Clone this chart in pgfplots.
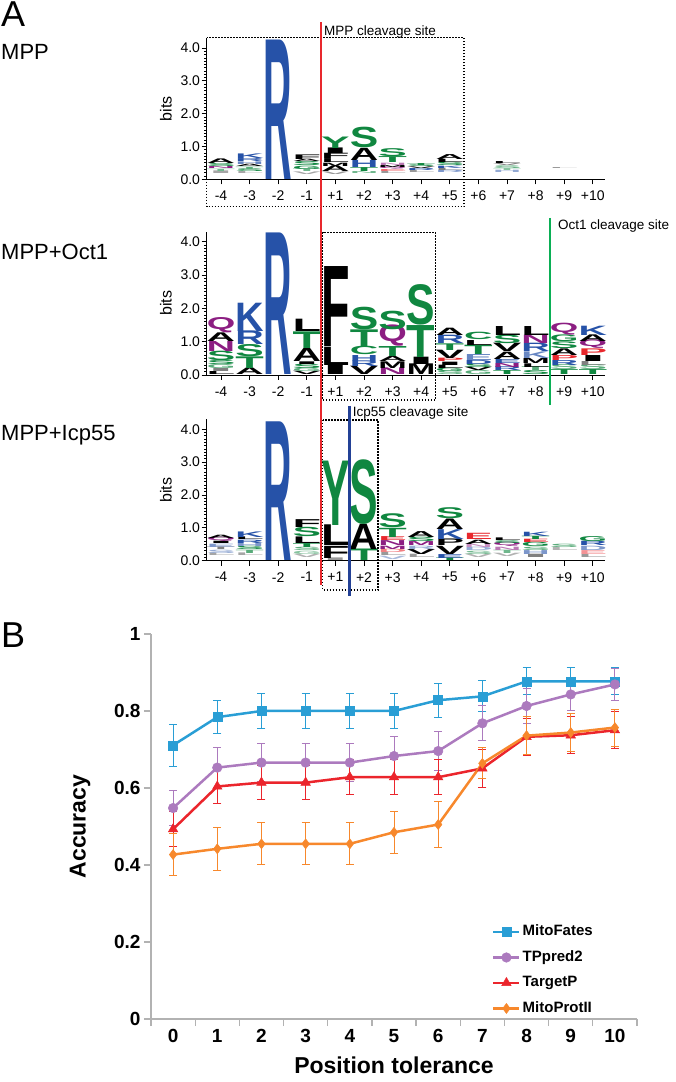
\documentclass[border=0pt]{standalone}
\usepackage{pgfplots}
\pgfplotsset{compat=1.18}
\usepackage{pgfplotstable}
\usepackage{graphicx}
\usepackage{fontspec}
\setmainfont{Liberation Sans}
\newfontfamily\logofont{Liberation Sans}
\definecolor{lb}{RGB}{38,82,168}
\definecolor{lg}{RGB}{16,135,64}
\definecolor{lp}{RGB}{140,30,130}
\definecolor{lr}{RGB}{232,40,45}
\definecolor{lk}{RGB}{0,0,0}
\definecolor{cblue}{RGB}{41,158,213}
\definecolor{cpurp}{RGB}{172,122,190}
\definecolor{cred}{RGB}{235,37,44}
\definecolor{corange}{RGB}{247,136,44}
\definecolor{lineg}{RGB}{10,175,85}
\definecolor{lineb}{RGB}{35,65,150}
\newlength\bu
\def\logoletter#1:#2:#3\relax{\textcolor{#1}{\resizebox{28.5pt}{#2\bu}{\logofont\bfseries #3}}}

% columns: x = position index, y = bottom of letter (bits), m = colour:height:letter
\pgfplotstableread{
x y m
1 0.17 lk!35:0.08:I
1 0.25 lg!60:0.07:T
1 0.32 lp:0.06:N
1 0.38 lg:0.09:S
1 0.47 lk:0.14:A
2 0.17 lk!35:0.06:L
2 0.23 lg:0.08:S
2 0.31 lg!70:0.07:T
2 0.38 lk:0.07:A
2 0.45 lb!70:0.08:H
2 0.53 lb:0.09:R
2 0.62 lb:0.14:K
3 0 lb:4.25:R
4 0.15 lk!35:0.08:V
4 0.23 lg!60:0.08:T
4 0.31 lg:0.10:G
4 0.41 lg:0.12:S
4 0.53 lk:0.07:A
4 0.60 lk:0.14:F
5 0.15 lk!40:0.08:V
5 0.23 lk:0.17:A
5 0.40 lk:0.10:M
5 0.50 lk:0.12:L
5 0.62 lk:0.16:F
5 0.78 lk:0.17:I
5 0.95 lg:0.35:Y
6 0.18 lg!60:0.06:N
6 0.24 lg:0.12:T
6 0.36 lb:0.22:H
6 0.58 lk:0.37:A
6 0.95 lg:0.62:S
7 0.18 lk!40:0.07:L
7 0.25 lr!70:0.06:E
7 0.31 lp:0.06:Q
7 0.37 lk:0.06:M
7 0.43 lp!60:0.07:N
7 0.50 lg:0.18:T
7 0.68 lg:0.24:S
8 0.20 lk!40:0.07:L
8 0.27 lb:0.06:R
8 0.33 lk:0.05:V
8 0.38 lg:0.05:S
8 0.43 lg:0.06:T
9 0.20 lb!60:0.07:R
9 0.27 lk!50:0.07:L
9 0.34 lb:0.07:K
9 0.41 lg:0.10:S
9 0.51 lk:0.10:L
9 0.61 lk:0.15:A
11 0.20 lb!50:0.07:H
11 0.27 lg!50:0.06:T
11 0.33 lg!70:0.08:S
11 0.41 lk!50:0.06:V
11 0.47 lk:0.06:L
13 0.32 lk!40:0.03:L
}\logoA

\pgfplotstableread{
x y m
1 0 lk:0.09:L
1 0.09 lk!50:0.09:I
1 0.18 lg!70:0.12:G
1 0.30 lg:0.12:S
1 0.42 lg:0.28:S
1 0.70 lp:0.30:N
1 1.00 lk:0.26:A
1 1.26 lp:0.36:Q
2 0 lk:0.20:A
2 0.20 lg:0.35:T
2 0.55 lg:0.36:S
2 0.91 lb:0.41:R
2 1.32 lb:0.85:K
3 0 lb:4.25:R
4 0 lk:0.10:V
4 0.10 lg!70:0.10:G
4 0.20 lg:0.13:S
4 0.33 lk:0.08:I
4 0.41 lk:0.39:A
4 0.80 lg:0.50:T
4 1.30 lk:0.37:L
5 0 lk:0.30:I
5 0.30 lk:0.55:L
5 0.85 lk:2.40:F
6 0 lk:0.25:V
6 0.25 lb:0.17:R
6 0.42 lb:0.18:H
6 0.60 lg:0.25:C
6 0.85 lg:0.50:T
6 1.35 lg:0.67:S
7 0 lp:0.20:N
7 0.20 lk:0.20:M
7 0.40 lk:0.15:A
7 0.55 lg:0.30:T
7 0.85 lp:0.50:Q
7 1.35 lg:0.55:S
8 0 lk:0.32:M
8 0.32 lk:0.22:I
8 0.54 lg:0.96:T
8 1.50 lg:1.20:S
9 0 lg!70:0.10:S
9 0.10 lg:0.10:G
9 0.20 lk:0.10:L
9 0.30 lk:0.10:I
9 0.40 lr:0.10:P
9 0.50 lk:0.25:V
9 0.75 lg:0.20:T
9 0.95 lb:0.25:R
9 1.20 lk:0.22:A
10 0 lg!70:0.12:G
10 0.12 lk:0.10:V
10 0.22 lg:0.10:S
10 0.32 lb:0.12:D
10 0.44 lb!70:0.18:E
10 0.62 lg:0.28:T
10 0.90 lk:0.15:L
10 1.05 lg:0.22:C
11 0 lg:0.12:T
11 0.12 lb:0.12:R
11 0.24 lp:0.12:N
11 0.36 lb:0.12:E
11 0.48 lk:0.22:A
11 0.70 lk:0.25:V
11 0.95 lg:0.25:S
11 1.20 lk:0.27:L
12 0 lg:0.12:S
12 0.12 lg!70:0.12:T
12 0.24 lk:0.11:L
12 0.35 lk:0.15:M
12 0.50 lb!70:0.20:K
12 0.70 lb:0.25:R
12 0.95 lp:0.25:N
12 1.20 lk:0.27:L
13 0 lg:0.15:T
13 0.15 lg!70:0.15:S
13 0.30 lb:0.15:R
13 0.45 lr:0.15:P
13 0.60 lk:0.20:A
13 0.80 lg:0.20:S
13 1.00 lg:0.20:G
13 1.20 lp:0.28:Q
14 0 lg:0.15:T
14 0.15 lg!70:0.15:S
14 0.30 lk!50:0.12:L
14 0.42 lk:0.18:I
14 0.60 lr:0.20:P
14 0.80 lp:0.20:Q
14 1.00 lk:0.20:A
14 1.20 lb:0.28:K
}\logoB

\pgfplotstableread{
x y m
1 0.15 lk!35:0.08:L
1 0.23 lb!50:0.10:S
1 0.33 lk!50:0.08:T
1 0.41 lb!60:0.10:E
1 0.51 lk:0.07:I
1 0.58 lp:0.10:Q
1 0.68 lk:0.10:A
2 0.15 lk!35:0.08:L
2 0.23 lg!70:0.10:T
2 0.33 lg:0.10:S
2 0.43 lb!60:0.10:H
2 0.53 lb:0.10:R
2 0.63 lk:0.08:L
2 0.71 lb:0.17:K
3 0 lb:4.22:R
4 0.10 lk!30:0.10:V
4 0.20 lg!50:0.10:G
4 0.30 lg!70:0.10:S
4 0.40 lg:0.12:T
4 0.52 lk:0.20:L
4 0.72 lg:0.28:S
4 1.00 lk:0.24:F
5 0 lk!40:0.08:I
5 0.08 lk:0.37:F
5 0.45 lk:0.63:L
5 1.08 lg:1.96:Y
6 0 lg:0.35:T
6 0.35 lk:0.77:A
6 1.12 lg:1.94:S
7 0.05 lb!40:0.10:V
7 0.15 lk!40:0.10:L
7 0.25 lr!60:0.10:D
7 0.35 lp:0.10:M
7 0.45 lp:0.15:N
7 0.60 lr:0.12:E
7 0.72 lg:0.28:T
7 1.00 lg:0.42:S
8 0.10 lk!40:0.10:L
8 0.20 lk:0.15:V
8 0.35 lb!50:0.10:R
8 0.45 lp:0.12:M
8 0.57 lg:0.13:S
8 0.70 lk:0.18:A
9 0 lg:0.08:T
9 0.08 lb:0.12:E
9 0.20 lk:0.25:V
9 0.45 lk:0.20:P
9 0.65 lb:0.30:K
9 0.95 lk:0.32:A
9 1.27 lg:0.33:S
10 0.10 lk!30:0.10:V
10 0.20 lg!60:0.10:S
10 0.30 lb!50:0.10:D
10 0.40 lp!50:0.10:N
10 0.50 lk:0.13:A
10 0.63 lr:0.19:E
11 0.12 lk!30:0.10:V
11 0.22 lg!60:0.10:T
11 0.32 lp!60:0.10:N
11 0.42 lp:0.10:Q
11 0.52 lg:0.08:S
11 0.60 lk:0.08:L
12 0.10 lk!50:0.10:I
12 0.20 lb!60:0.12:H
12 0.32 lg!70:0.10:S
12 0.42 lg:0.13:G
12 0.55 lr:0.10:E
12 0.65 lg:0.10:T
12 0.75 lb:0.13:K
13 0.30 lk!30:0.10:L
13 0.40 lg!70:0.10:S
14 0.10 lk!40:0.10:L
14 0.20 lr!50:0.12:E
14 0.32 lb!60:0.13:D
14 0.45 lb:0.13:R
14 0.58 lg:0.15:G
}\logoC

\pgfplotstableread{
x y e
0 0.711 0.054
1 0.784 0.042
2 0.800 0.045
3 0.800 0.045
4 0.800 0.045
5 0.800 0.045
6 0.828 0.044
7 0.838 0.040
8 0.877 0.035
9 0.877 0.035
10 0.877 0.035
}\mitofates

\pgfplotstableread{
x y e
0 0.548 0.045
1 0.653 0.053
2 0.666 0.050
3 0.666 0.050
4 0.666 0.050
5 0.683 0.052
6 0.696 0.050
7 0.768 0.045
8 0.813 0.045
9 0.843 0.043
10 0.869 0.042
}\tppred

\pgfplotstableread{
x y e
0 0.493 0.045
1 0.604 0.044
2 0.614 0.045
3 0.614 0.045
4 0.628 0.045
5 0.628 0.045
6 0.628 0.045
7 0.651 0.050
8 0.733 0.048
9 0.737 0.048
10 0.750 0.048
}\targetp

\pgfplotstableread{
x y e
0 0.427 0.055
1 0.442 0.055
2 0.455 0.055
3 0.455 0.055
4 0.455 0.055
5 0.485 0.055
6 0.505 0.060
7 0.664 0.040
8 0.736 0.050
9 0.744 0.050
10 0.757 0.048
}\mitoprot

\pgfplotsset{
 logo/.style={
  scale only axis, width=398.6pt, xmin=0.493, xmax=14.43, ymin=0, ymax=4.3, anchor=south west,
  axis x line*=bottom, axis y line*=left,
  axis line style={black, line width=0.9pt},
  xtick={1,...,14}, xticklabels={-4,-3,-2,-1,+1,+2,+3,+4,+5,+6,+7,+8,+9,+10},
  ytick={0,1,2,3,4}, yticklabels={0.0,1.0,2.0,3.0,4.0},
  minor y tick num=9,
  tick align=outside, major tick length=5pt, minor tick length=2.5pt,
  tick style={black, line width=0.8pt},
  ticklabel style={font=\fontsize{14}{14}\selectfont},
  yticklabel style={xshift=2pt},
  xticklabel style={yshift=-3pt},
  ylabel={bits},
  ylabel style={font=\fontsize{16}{16}\selectfont, at={(axis description cs:-0.1016,0.5)}, anchor=center},
  clip=false,
 },
 letters/.style={only marks, mark=text, text mark={}, point meta=explicit symbolic,
  nodes near coords={\expandafter\logoletter\pgfplotspointmeta\relax},
  every node near coord/.append style={anchor=south, inner sep=0pt, outer sep=0pt},
 },
}

\begin{document}
\begin{tikzpicture}
\path[use as bounding box] (0pt,0pt) rectangle (676pt,1082pt);

% ---- Logo 1: MPP
\setlength\bu{32.8pt}
\begin{axis}[logo, at={(206.5pt,902.7pt)}, height=141.04pt]
\addplot[letters] table[x=x,y=y,meta=m]{\logoA};
\end{axis}

% ---- Logo 2: MPP+Oct1
\setlength\bu{33.3pt}
\begin{axis}[logo, at={(206.5pt,707pt)}, height=143.19pt]
\addplot[letters] table[x=x,y=y,meta=m]{\logoB};
\end{axis}

% ---- Logo 3: MPP+Icp55
\setlength\bu{32.85pt}
\begin{axis}[logo, at={(206.5pt,521.3pt)}, height=141.26pt]
\addplot[letters] table[x=x,y=y,meta=m]{\logoC};
\end{axis}

% ---- Panel B
\begin{axis}[at={(151pt,63pt)}, anchor=south west, scale only axis, width=486pt, height=385pt,
 xmin=-0.5, xmax=10.5, ymin=0, ymax=1,
 axis x line*=bottom, axis y line*=left,
 axis line style={draw=black!30, line width=1.2pt},
 xtick={0,...,10}, minor xtick={-0.5,0.5,...,10.5},
 ytick={0,0.2,0.4,0.6,0.8,1},
 tick align=outside, major tick length=7pt, minor tick length=7pt,
 tick style={black!30, line width=1.2pt},
 major x tick style={draw=none},
 ticklabel style={font=\bfseries\fontsize{19}{19}\selectfont},
 /pgf/number format/assume math mode=true,
 xlabel={Position tolerance}, ylabel={Accuracy},
 label style={font=\bfseries\fontsize{23}{23}\selectfont},
 xlabel style={at={(axis description cs:0.5,-0.119)}, anchor=center},
 ylabel style={at={(axis description cs:-0.146,0.5)}, anchor=center},
 legend style={at={(0.7016,0.246)}, anchor=north west, draw=none, fill=none,
   inner sep=0pt, row sep=10.5pt,
   font=\bfseries\fontsize{15}{15}\selectfont,
   nodes={inner xsep=2pt, inner ysep=0pt, text height=11.5pt, text depth=3.5pt}},
 legend cell align=left,
 legend image code/.code={\draw[mark repeat=2,mark phase=2,#1] plot coordinates {(0pt,0pt) (13pt,0pt) (26pt,0pt)};},
 clip=false,
]
\addplot[cblue, line width=2.5pt, mark=square*, mark size=4.5pt, mark options={solid, line width=0.5pt},
  error bars/.cd, y dir=both, y explicit, error bar style={line width=1pt, cblue},
  error mark options={rotate=90, mark size=4pt, line width=1pt, cblue}]
  table[x=x,y=y,y error=e]{\mitofates};
\addlegendentry{MitoFates}
\addplot[cpurp, line width=2.5pt, mark=*, mark size=4.8pt, mark options={solid, line width=0.5pt},
  error bars/.cd, y dir=both, y explicit, error bar style={line width=1pt, cpurp},
  error mark options={rotate=90, mark size=4pt, line width=1pt, cpurp}]
  table[x=x,y=y,y error=e]{\tppred};
\addlegendentry{TPpred2}
\addplot[cred, line width=2.5pt, mark=triangle*, mark size=5.5pt, mark options={solid, line width=0.5pt},
  error bars/.cd, y dir=both, y explicit, error bar style={line width=1pt, cred},
  error mark options={rotate=90, mark size=4pt, line width=1pt, cred}]
  table[x=x,y=y,y error=e]{\targetp};
\addlegendentry{TargetP}
\addplot[corange, line width=2.5pt, mark=diamond*, mark size=5pt, mark options={solid, line width=0.5pt},
  error bars/.cd, y dir=both, y explicit, error bar style={line width=1pt, corange},
  error mark options={rotate=90, mark size=4pt, line width=1pt, corange}]
  table[x=x,y=y,y error=e]{\mitoprot};
\addlegendentry{MitoProtII}
\end{axis}

% ---- annotations
\node[anchor=base west, inner sep=0pt, font=\fontsize{36}{36}\selectfont] at (1pt,1055pt) {A};
\node[anchor=base west, inner sep=0pt, font=\fontsize{22}{22}\selectfont] at (1pt,1022pt) {MPP};
\node[anchor=base west, inner sep=0pt, font=\fontsize{22}{22}\selectfont] at (1pt,822pt) {MPP+Oct1};
\node[anchor=base west, inner sep=0pt, font=\fontsize{22}{22}\selectfont] at (1pt,641pt) {MPP+Icp55};
\node[anchor=base west, inner sep=0pt, font=\fontsize{36}{36}\selectfont] at (1pt,434pt) {B};

\draw[black, line width=1.5pt, dash pattern=on 1.5pt off 1.5pt] (206.5pt,1044.3pt) rectangle (464.1pt,875.3pt);
\draw[black, line width=1.5pt, dash pattern=on 1.5pt off 1.5pt] (322.5pt,849.7pt) rectangle (435.5pt,682pt);
\draw[black, line width=1.5pt, dash pattern=on 1.5pt off 1.5pt] (322.5pt,662pt) rectangle (378.2pt,492pt);

\draw[lr, line width=2.5pt] (321pt,1059.7pt) -- (321pt,497pt);
\draw[lineg, line width=2.5pt] (550pt,864pt) -- (550pt,677pt);
\draw[lineb, line width=2.5pt] (349.7pt,676pt) -- (349.7pt,486.3pt);

\node[anchor=base west, inner sep=0pt, font=\fontsize{13.5}{13.5}\selectfont] at (324pt,1046pt) {MPP cleavage site};
\node[anchor=base west, inner sep=0pt, font=\fontsize{13.5}{13.5}\selectfont] at (558pt,852pt) {Oct1 cleavage site};
\node[anchor=base west, inner sep=0pt, font=\fontsize{13.5}{13.5}\selectfont] at (352.6pt,665pt) {Icp55 cleavage site};
\end{tikzpicture}
\end{document}
